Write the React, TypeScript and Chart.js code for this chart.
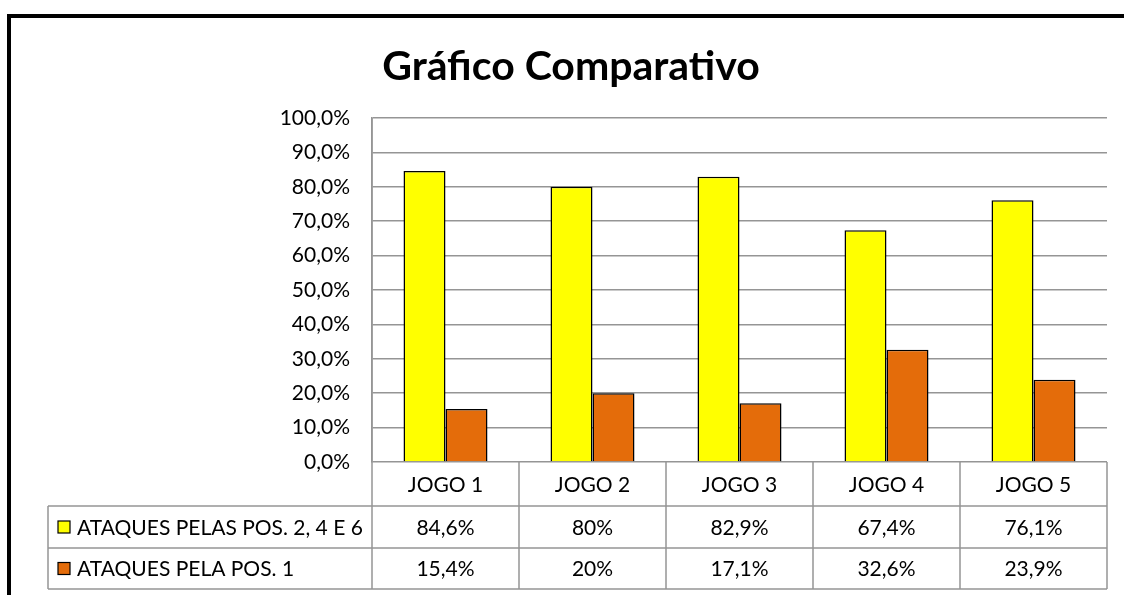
import React, { useEffect, useRef } from "react";
import { Chart, registerables } from "chart.js";

Chart.register(...registerables);

const TITLE = "Gráfico Comparativo";
const categories = ["JOGO 1", "JOGO 2", "JOGO 3", "JOGO 4", "JOGO 5"];
const seriesNames = ["ATAQUES PELAS POS. 2, 4 E 6", "ATAQUES PELA POS. 1"];
const seriesPos246 = [0.846, 0.8, 0.829, 0.674, 0.761];
const seriesPos1 = [0.154, 0.2, 0.171, 0.326, 0.239];
const seriesColors = ["#FFFF00", "#E46C0A"];

const FONT = "Lato, 'Open Sans', sans-serif";
const GRID = "#959595";

function fmtTick(v: number) {
  return (v * 100).toFixed(1).replace(".", ",") + "%";
}
function fmtCell(v: number) {
  return (v * 100).toFixed(1).replace(".", ",").replace(/,0$/, "") + "%";
}

const tablePlugin = {
  id: "tablePlugin",
  afterDraw(chart: any) {
    const ctx = chart.ctx as CanvasRenderingContext2D;
    const area = chart.chartArea;
    const x = chart.scales.x;
    ctx.save();
    // outer frame
    ctx.strokeStyle = "#000";
    ctx.lineWidth = 4;
    ctx.beginPath();
    ctx.moveTo(9, 600);
    ctx.lineTo(9, 16);
    ctx.lineTo(1130, 16);
    ctx.stroke();

    // title
    ctx.fillStyle = "#000";
    ctx.font = `bold 41px ${FONT}`;
    ctx.textAlign = "center";
    ctx.textBaseline = "alphabetic";
    ctx.fillText(TITLE, 571, 80);

    // table
    const rowTops = [area.bottom, 506, 548, 589];
    const legLeft = 48;
    const n = categories.length;
    const cw = (area.right - area.left) / n;
    ctx.strokeStyle = GRID;
    ctx.lineWidth = 1.5;
    ctx.beginPath();
    for (let r = 1; r < rowTops.length; r++) {
      ctx.moveTo(legLeft, rowTops[r]);
      ctx.lineTo(area.right, rowTops[r]);
    }
    for (let i = 0; i <= n; i++) {
      const xx = area.left + i * cw;
      ctx.moveTo(xx, i === 0 ? area.top : area.bottom);
      ctx.lineTo(xx, rowTops[3]);
    }
    ctx.moveTo(legLeft, rowTops[1]);
    ctx.lineTo(legLeft, rowTops[3]);
    ctx.stroke();

    ctx.fillStyle = "#000";
    ctx.font = `21px ${FONT}`;
    ctx.textAlign = "center";
    ctx.textBaseline = "middle";
    for (let i = 0; i < n; i++) {
      const cx = x.getPixelForValue(i);
      ctx.fillText(categories[i], cx, (rowTops[0] + rowTops[1]) / 2 + 1);
      ctx.fillText(fmtCell(seriesPos246[i]), cx, (rowTops[1] + rowTops[2]) / 2 + 1);
      ctx.fillText(fmtCell(seriesPos1[i]), cx, (rowTops[2] + rowTops[3]) / 2 + 1);
    }
    ctx.textAlign = "left";
    for (let s = 0; s < 2; s++) {
      const cy = (rowTops[s + 1] + rowTops[s + 2]) / 2;
      ctx.fillStyle = seriesColors[s];
      ctx.fillRect(58, cy - 6, 12, 12);
      ctx.strokeStyle = "#000";
      ctx.lineWidth = 1.2;
      ctx.strokeRect(58, cy - 6, 12, 12);
      ctx.fillStyle = "#000";
      ctx.fillText(seriesNames[s], 77, cy + 1);
    }
    ctx.restore();
  },
};

export default function App() {
  const ref = useRef<HTMLCanvasElement>(null);
  useEffect(() => {
    const chart = new Chart(ref.current!, {
      type: "bar",
      data: {
        labels: categories,
        datasets: [
          {
            label: seriesNames[0],
            data: seriesPos246,
            backgroundColor: seriesColors[0],
            borderColor: "#000",
            borderWidth: 1.5,
          },
          {
            label: seriesNames[1],
            data: seriesPos1,
            backgroundColor: seriesColors[1],
            borderColor: "#000",
            borderWidth: 1.5,
          },
        ],
      },
      options: {
        responsive: false,
        animation: false,
        layout: { padding: { top: 118, bottom: 133, right: 17, left: 0 } },
        datasets: {
          bar: { categoryPercentage: 84 / 147, barPercentage: 1 },
        },
        plugins: {
          legend: { display: false },
          title: { display: false },
          tooltip: { enabled: false },
        },
        scales: {
          x: { display: false },
          y: {
            min: 0,
            max: 1,
            afterFit: (scale: any) => {
              scale.width = 372;
            },
            border: { display: true, color: GRID, width: 1.5 },
            grid: { color: GRID, lineWidth: 1.5, drawTicks: false },
            ticks: {
              stepSize: 0.1,
              padding: 22,
              color: "#000",
              font: { family: FONT, size: 21 },
              callback: (v: any) => fmtTick(Number(v)),
            },
          },
        },
      },
      plugins: [tablePlugin],
    });
    return () => chart.destroy();
  }, []);
  return (
    <div style={{ position: "absolute", left: 0, top: 0, width: 1124, height: 595, background: "#fff" }}>
      <canvas ref={ref} width={1124} height={595} />
    </div>
  );
}
